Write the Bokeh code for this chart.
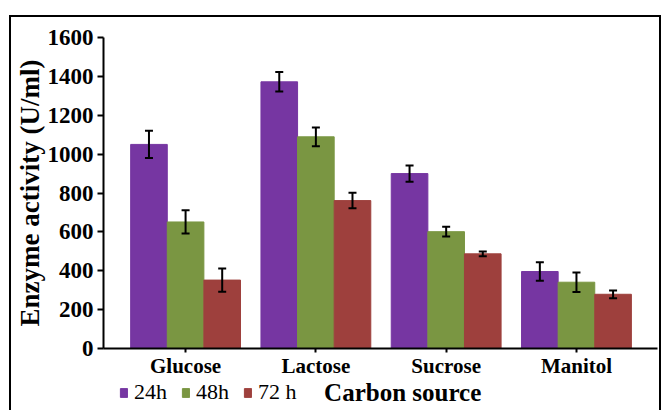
from bokeh.plotting import figure
from bokeh.layouts import column
from bokeh.models import (ColumnDataSource, Whisker, FixedTicker, Legend, LegendItem, Range1d, Label)
from bokeh.embed import file_html
from bokeh.resources import INLINE

categories = ["Glucose", "Lactose", "Sucrose", "Manitol"]
series_names = ["24h", "48h", "72 h"]
v24 = [1050, 1372, 900, 396]
v48 = [651, 1089, 601, 341]
v72 = [352, 761, 487, 279]
e24 = [70, 50, 42, 48]
e48 = [60, 48, 25, 50]
e72 = [60, 40, 12, 20]
y_ticks = [0, 200, 400, 600, 800, 1000, 1200, 1400, 1600]
colors = ["#7636A2", "#7A9642", "#9E403D"]
x_title = "Carbon source"
y_title = "Enzyme activity (U/ml)"

FONT = "Liberation Serif"
bar_w = 0.281
offsets = [-bar_w, 0.0, bar_w]

# ---- main chart ----
p = figure(width=648, height=363, output_backend="svg", toolbar_location=None,
           x_range=Range1d(-0.630, 3.622), y_range=Range1d(0, 1600),
           min_border_left=86, min_border_right=2, min_border_top=20, min_border_bottom=29)
p.outline_line_color = None
p.xgrid.visible = False
p.ygrid.visible = False
p.background_fill_color = "white"
p.border_fill_color = "white"

sources = []
for vals, errs, off, col in zip([v24, v48, v72], [e24, e48, e72], offsets, colors):
    xs = [i + off for i in range(len(categories))]
    src = ColumnDataSource(dict(x=xs, top=vals, upper=[v + e for v, e in zip(vals, errs)],
                                lower=[v - e for v, e in zip(vals, errs)]))
    sources.append(src)
    p.vbar(x="x", top="top", width=bar_w, source=src, fill_color=col, line_color=col)
    w = Whisker(base="x", upper="upper", lower="lower", source=src, level="annotation",
                line_color="black", line_width=2)
    w.upper_head.size = 8
    w.lower_head.size = 8
    w.upper_head.line_width = 2
    w.lower_head.line_width = 2
    p.add_layout(w)

p.xaxis.ticker = FixedTicker(ticks=list(range(len(categories))))
p.xaxis.major_label_overrides = {i: c for i, c in enumerate(categories)}
p.xaxis.minor_tick_line_color = None
p.xaxis.major_tick_in = 0
p.xaxis.major_tick_out = 4
p.xaxis.major_label_standoff = 1
p.xaxis.axis_line_width = 2
p.xaxis.major_tick_line_width = 2
p.xaxis.major_label_text_font = FONT
p.xaxis.major_label_text_font_style = "bold"
p.xaxis.major_label_text_font_size = "21px"
p.xaxis.major_label_text_color = "black"

p.yaxis.ticker = FixedTicker(ticks=y_ticks)
p.yaxis.minor_tick_line_color = None
p.yaxis.major_tick_in = 0
p.yaxis.major_tick_out = 6
p.yaxis.major_label_standoff = 4
p.yaxis.axis_line_width = 2
p.yaxis.major_tick_line_width = 2
p.yaxis.major_label_text_font = FONT
p.yaxis.major_label_text_font_style = "bold"
p.yaxis.major_label_text_font_size = "23px"
p.yaxis.major_label_text_color = "black"
p.yaxis.axis_label = y_title
p.yaxis.axis_label_text_font = FONT
p.yaxis.axis_label_text_font_style = "bold"
p.yaxis.axis_label_text_font_size = "27px"
p.yaxis.axis_label_text_color = "black"
p.yaxis.axis_label_standoff = 0

# ---- legend row with the x-axis title (frame aligned with the chart's frame) ----
q = figure(width=648, height=30, output_backend="svg", toolbar_location=None,
           x_axis_location=None, y_axis_location=None,
           x_range=Range1d(0, 560), y_range=Range1d(0, 30),
           min_border_left=86, min_border_right=2, min_border_top=0, min_border_bottom=0)
q.xgrid.visible = False
q.ygrid.visible = False
q.outline_line_color = None
q.background_fill_color = "white"
q.border_fill_color = "white"

legend_renderers = [q.vbar(x="x", top="top", width=bar_w, source=s, fill_color=c, line_color=c,
                           visible=False)
                    for s, c in zip(sources, colors)]
legend = Legend(items=[LegendItem(label=n, renderers=[r])
                       for n, r in zip(series_names, legend_renderers)],
                orientation="horizontal", location=(16, 5),
                label_text_font=FONT, label_text_font_size="22px", label_text_color="black",
                glyph_width=9, glyph_height=11, label_standoff=6, spacing=14,
                padding=0, margin=0, background_fill_alpha=0, border_line_color=None,
                inactive_fill_alpha=0, click_policy="none")
q.add_layout(legend, "center")
q.add_layout(Label(x=223, y=18, text=x_title, text_align="left", text_baseline="middle",
                   text_font=FONT, text_font_style="bold", text_font_size="25px",
                   text_color="black"))

layout = column(p, q, spacing=0, margin=(15, 0, 0, 9),
                styles={"border-left": "2px solid black", "border-top": "2px solid black",
                        "border-right": "2px solid black"})

open("out.html", "w").write(file_html(layout, INLINE))
